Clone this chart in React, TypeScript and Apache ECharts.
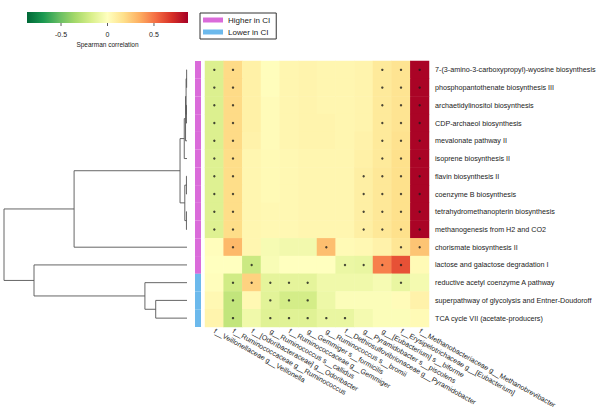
import React, { useEffect, useRef } from "react";
import * as echarts from "echarts";

const rowLabels = [
  "7-(3-amino-3-carboxypropyl)-wyosine biosynthesis",
  "phosphopantothenate biosynthesis III",
  "archaetidylinositol biosynthesis",
  "CDP-archaeol biosynthesis",
  "mevalonate pathway II",
  "isoprene biosynthesis II",
  "flavin biosynthesis II",
  "coenzyme B biosynthesis",
  "tetrahydromethanopterin biosynthesis",
  "methanogenesis from H2 and CO2",
  "chorismate biosynthesis II",
  "lactose and galactose degradation I",
  "reductive acetyl coenzyme A pathway",
  "superpathway of glycolysis and Entner-Doudoroff",
  "TCA cycle VII (acetate-producers)",
];

const colLabels = [
  "f__Veillonellaceae g__Veillonella",
  "f__Ruminococcaceae g__Ruminococcus",
  "f__[Odoribacteraceae] g__Odoribacter",
  "g__Ruminococcus s__callidus",
  "f__Ruminococcaceae g__Gemmiger",
  "g__Gemmiger s__formicilis",
  "g__Ruminococcus s__bromii",
  "f__Dethiosulfovibrionaceae g__Pyramidobacter",
  "g__Pyramidobacter s__piscolens",
  "g__[Eubacterium] s__biforme",
  "f__Erysipelotrichaceae g__[Eubacterium]",
  "f__Methanobacteriaceae g__Methanobrevibacter",
];

const corrRows = [
  [-0.16, 0.19, 0.08, 0.01, 0.05, 0.06, 0.05, 0.05, 0.06, 0.12, 0.15, 0.85],
  [-0.16, 0.19, 0.08, 0.01, 0.05, 0.06, 0.05, 0.05, 0.06, 0.12, 0.15, 0.85],
  [-0.16, 0.19, 0.08, 0.02, 0.05, 0.06, 0.05, 0.05, 0.06, 0.12, 0.15, 0.85],
  [-0.16, 0.19, 0.08, 0.02, 0.05, 0.06, 0.06, 0.05, 0.06, 0.12, 0.15, 0.85],
  [-0.16, 0.19, 0.07, 0.02, 0.05, 0.06, 0.06, 0.05, 0.07, 0.12, 0.16, 0.85],
  [-0.15, 0.18, 0.05, 0.03, 0.04, 0.05, 0.05, 0.05, 0.08, 0.12, 0.17, 0.85],
  [-0.15, 0.18, 0.05, 0.03, 0.04, 0.05, 0.05, 0.05, 0.09, 0.13, 0.17, 0.85],
  [-0.15, 0.18, 0.05, 0.03, 0.04, 0.05, 0.05, 0.05, 0.09, 0.13, 0.17, 0.85],
  [-0.15, 0.18, 0.05, 0.04, 0.04, 0.05, 0.05, 0.05, 0.09, 0.13, 0.17, 0.85],
  [-0.15, 0.18, 0.05, 0.04, 0.04, 0.05, 0.05, 0.05, 0.09, 0.13, 0.17, 0.85],
  [0.01, 0.31, 0.05, -0.04, -0.06, -0.06, 0.29, 0.03, 0.04, 0.07, 0.14, 0.27],
  [0.0, 0.0, -0.22, -0.03, 0.0, 0.0, 0.0, -0.09, -0.1, 0.47, 0.6, 0.03],
  [0.01, -0.2, 0.22, -0.12, -0.12, -0.12, -0.07, -0.07, -0.07, -0.04, -0.1, -0.05],
  [0.04, -0.25, 0.04, -0.13, -0.19, -0.19, -0.08, -0.02, -0.02, -0.02, 0.02, 0.07],
  [0.06, -0.25, -0.07, -0.14, -0.14, -0.14, -0.1, -0.1, -0.05, -0.02, -0.02, 0.03],
];

const sigRows = [
  [1, 1, 0, 0, 0, 0, 0, 0, 0, 1, 1, 1],
  [1, 1, 0, 0, 0, 0, 0, 0, 0, 1, 1, 1],
  [1, 1, 0, 0, 0, 0, 0, 0, 0, 1, 1, 1],
  [1, 1, 0, 0, 0, 0, 0, 0, 0, 1, 1, 1],
  [1, 1, 0, 0, 0, 0, 0, 0, 0, 1, 1, 1],
  [1, 1, 0, 0, 0, 0, 0, 0, 0, 1, 1, 1],
  [1, 1, 0, 0, 0, 0, 0, 0, 1, 1, 1, 1],
  [1, 1, 0, 0, 0, 0, 0, 0, 1, 1, 1, 1],
  [1, 1, 0, 0, 0, 0, 0, 0, 1, 1, 1, 1],
  [1, 1, 0, 0, 0, 0, 0, 0, 1, 1, 1, 1],
  [0, 1, 0, 0, 0, 0, 1, 0, 0, 0, 1, 1],
  [0, 0, 1, 0, 0, 0, 0, 1, 1, 1, 1, 0],
  [0, 1, 1, 1, 1, 1, 0, 0, 0, 0, 1, 0],
  [0, 1, 0, 1, 1, 1, 0, 0, 0, 0, 0, 0],
  [0, 1, 0, 1, 1, 1, 1, 1, 0, 0, 0, 0],
];

const groupNames = ["Higher in CI", "Lower in CI"];
const groupColors = ["#DA6BDA", "#6CB9EC"];
const rowGroups = [0, 0, 0, 0, 0, 0, 0, 0, 0, 0, 0, 0, 1, 1, 1];

// hclust-style merges: negative = leaf (1-based row), positive = earlier merge (1-based)
const merges = [
  [-1, -2], [-3, -4], [1, 2], [3, -5], [4, -6],
  [-7, -8], [-9, -10], [6, 7], [5, 8], [9, -11],
  [-14, -15], [-13, 11], [-12, 12], [10, 13],
];
const mergeHeights = [0.02, 0.03, 0.05, 0.08, 0.15, 0.03, 0.03, 0.12, 0.38, 6.17, 1.71, 2.3, 8.36, 10];

const colorLimit = 0.866;
const colorbarTicks = [-0.5, 0, 0.5];
const paletteColors = [
  "#006837", "#1A9850", "#66BD63", "#A6D96A", "#D9EF8B", "#FFFFBF",
  "#FEE08B", "#FDAE61", "#F46D43", "#D73027", "#A50026",
];

const FONT = "Liberation Sans, Arial, sans-serif";

export default function App() {
  const ref = useRef<HTMLDivElement>(null);
  useEffect(() => {
    if (!ref.current) return;
    const chart = echarts.init(ref.current, undefined, { renderer: "svg" });

    const nRows = rowLabels.length;
    const gridTop = 61;
    const gridH = 266;

    const heatData: number[][] = [];
    const dotData: number[][] = [];
    corrRows.forEach((row, r) =>
      row.forEach((v, c) => {
        heatData.push([c, r, v]);
        if (sigRows[r][c]) dotData.push([c, r]);
      })
    );

    // dendrogram segments
    const nodeY: number[] = [];
    const segs: number[][] = [];
    merges.forEach((m, i) => {
      const pos = (ch: number) => (ch < 0 ? [-ch - 1, 0] : [nodeY[ch - 1], mergeHeights[ch - 1]]);
      const [yL, hL] = pos(m[0]);
      const [yR, hR] = pos(m[1]);
      nodeY[i] = (yL + yR) / 2;
      segs.push([mergeHeights[i], yL, hL, yR, hR]);
    });

    const annot = (g: number) =>
      rowGroups.map((gr, r) => (gr === g ? [0, r] : null)).filter((d) => d) as number[][];

    const cbX = 27, cbW = 161, cbY = 12, cbH = 11;
    const toCb = (v: number) => cbX + ((v + colorLimit) / (2 * colorLimit)) * cbW;

    const graphics: any[] = [
      {
        type: "rect",
        shape: { x: cbX, y: cbY, width: cbW, height: cbH },
        style: {
          fill: new echarts.graphic.LinearGradient(
            0, 0, 1, 0,
            paletteColors.map((c, i) => ({ offset: i / (paletteColors.length - 1), color: c }))
          ),
        },
      },
      {
        type: "text",
        style: {
          text: "Spearman correlation",
          x: cbX + cbW / 2,
          y: 44,
          align: "center",
          verticalAlign: "middle",
          fontSize: 6.5,
          fontFamily: FONT,
          fill: "#222",
        },
      },
    ];
    colorbarTicks.forEach((t) => {
      const x = toCb(t);
      graphics.push({
        type: "line",
        shape: { x1: x, y1: cbY + cbH, x2: x, y2: cbY + cbH + 3 },
        style: { stroke: "#333", lineWidth: 0.8 },
      });
      graphics.push({
        type: "text",
        style: {
          text: String(t),
          x,
          y: 34,
          align: "center",
          verticalAlign: "middle",
          fontSize: 7,
          fontFamily: FONT,
          fill: "#222",
        },
      });
    });

    const gridBase = { outerBoundsMode: "none", containLabel: false };

    const option: any = {
      animation: false,
      textStyle: { fontFamily: FONT },
      legend: {
        data: groupNames,
        orient: "vertical",
        left: 200,
        top: 13,
        padding: [3, 6, 3, 3],
        itemGap: 4,
        itemWidth: 20,
        itemHeight: 5,
        icon: "rect",
        borderColor: "#333",
        borderWidth: 1,
        textStyle: { fontSize: 8, color: "#222", fontFamily: FONT },
        selectedMode: false,
      },
      grid: [
        { ...gridBase, left: 205, top: gridTop, width: 224, height: gridH },
        { ...gridBase, left: 4, top: gridTop, width: 183, height: gridH },
        { ...gridBase, left: 195, top: gridTop, width: 6, height: gridH },
      ],
      xAxis: [
        {
          type: "category",
          gridIndex: 0,
          data: colLabels,
          axisLine: { show: false },
          axisTick: { show: false },
          splitLine: { show: false },
          axisLabel: {
            interval: 0,
            rotate: -29,
            margin: 4,
            fontSize: 7.1,
            color: "#222",
            fontFamily: FONT,
          },
        },
        { type: "value", gridIndex: 1, min: 0, max: 10, inverse: true, show: false },
        { type: "value", gridIndex: 2, min: 0, max: 1, show: false },
      ],
      yAxis: [
        {
          type: "category",
          gridIndex: 0,
          data: rowLabels,
          inverse: true,
          position: "right",
          axisLine: { show: false },
          axisTick: { show: false },
          splitLine: { show: false },
          axisLabel: { margin: 6, fontSize: 7.2, color: "#222", fontFamily: FONT },
        },
        { type: "value", gridIndex: 1, min: -0.5, max: nRows - 0.5, inverse: true, show: false },
        { type: "value", gridIndex: 2, min: -0.5, max: nRows - 0.5, inverse: true, show: false },
      ],
      visualMap: {
        show: false,
        type: "continuous",
        seriesIndex: 0,
        min: -colorLimit,
        max: colorLimit,
        inRange: { color: paletteColors },
      },
      graphic: graphics,
      series: [
        {
          type: "heatmap",
          xAxisIndex: 0,
          yAxisIndex: 0,
          data: heatData,
          emphasis: { disabled: true },
          itemStyle: { borderWidth: 0 },
        },
        {
          type: "scatter",
          xAxisIndex: 0,
          yAxisIndex: 0,
          data: dotData,
          symbol: "circle",
          symbolSize: 2.4,
          itemStyle: { color: "#1a1a1a" },
          silent: true,
        },
        {
          type: "custom",
          xAxisIndex: 1,
          yAxisIndex: 1,
          data: segs,
          silent: true,
          renderItem: (_p: any, api: any) => {
            const h = api.value(0);
            const yL = api.value(1);
            const hL = api.value(2);
            const yR = api.value(3);
            const hR = api.value(4);
            const pts = [
              api.coord([hL, yL]),
              api.coord([h, yL]),
              api.coord([h, yR]),
              api.coord([hR, yR]),
            ];
            return {
              type: "polyline",
              shape: { points: pts },
              style: { stroke: "#555", lineWidth: 0.9, fill: null },
            };
          },
        },
        ...groupNames.map((name, g) => ({
          type: "custom",
          name,
          xAxisIndex: 2,
          yAxisIndex: 2,
          data: annot(g),
          silent: true,
          itemStyle: { color: groupColors[g] },
          color: groupColors[g],
          renderItem: (_p: any, api: any) => {
            const r = api.value(1);
            const a = api.coord([0, r - 0.5]);
            const b = api.coord([1, r + 0.5]);
            return {
              type: "rect",
              shape: { x: a[0], y: a[1], width: b[0] - a[0], height: b[1] - a[1] },
              style: { fill: groupColors[g] },
            };
          },
        })),
      ],
    };
    chart.setOption(option);
    return () => chart.dispose();
  }, []);
  return (
    <div
      ref={ref}
      style={{ position: "fixed", left: 0, top: 0, width: 600, height: 415, background: "#fff" }}
    />
  );
}
